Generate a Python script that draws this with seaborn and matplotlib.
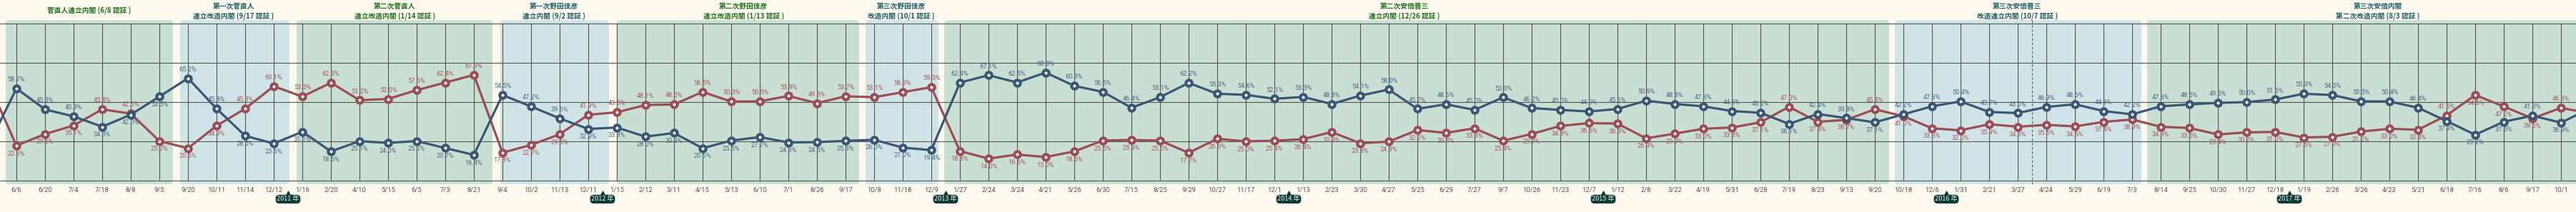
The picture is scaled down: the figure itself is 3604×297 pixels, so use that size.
import matplotlib
matplotlib.use("Agg")
import matplotlib.pyplot as plt
import seaborn as sns
import pandas as pd
import numpy as np
from matplotlib.patches import FancyBboxPatch

# ---------------- data ----------------
dates = ['6/6','6/20','7/4','7/18','8/8','9/5','9/20','10/11','11/14','12/12',
         '1/16','2/20','4/10','5/15','6/5','7/3','8/21','9/4','10/2','11/13',
         '12/11','1/15','2/12','3/11','4/15','5/13','6/10','7/1','8/26','9/17',
         '10/8','11/18','12/9','1/27','2/24','3/24','4/21','5/26','6/30','7/15',
         '8/25','9/29','10/27','11/17','12/1','1/13','2/23','3/30','4/27','5/25',
         '6/29','7/27','9/7','10/26','11/23','12/7','1/12','2/8','3/22','4/19',
         '5/31','6/28','7/19','8/23','9/13','9/20','10/18','12/6','1/31','2/21',
         '3/27','4/24','5/29','6/19','7/3','8/14','9/25','10/30','11/27','12/18',
         '1/19','2/26','3/26','4/23','5/21','6/18','7/16','8/6','9/17','10/1']

approve = [58.7,45.3,40.9,34.3,42.0,53.5,65.2,45.8,28.5,23.6,
           31.1,18.6,25.1,24.0,25.2,20.7,16.4,54.5,47.2,39.6,
           32.9,33.8,28.0,30.3,20.6,25.5,27.7,24.3,24.5,25.3,
           26.0,21.0,19.4,62.4,67.1,62.5,68.8,60.3,56.5,46.4,
           53.1,62.2,55.3,54.6,52.1,53.3,48.8,54.1,58.0,45.7,
           48.6,45.0,53.0,46.2,45.0,44.0,45.6,50.9,48.8,47.3,
           44.3,43.2,36.1,42.4,39.8,37.1,42.2,47.3,50.4,43.7,
           43.0,46.9,48.6,44.3,42.2,47.3,48.5,49.5,50.0,51.6,
           55.3,54.5,50.5,50.4,46.4,37.9,29.2,37.5,41.3,36.9]

disapprove = [22.3,29.6,35.1,45.4,42.6,25.2,20.6,34.9,45.8,60.1,
              53.5,62.3,51.2,52.0,57.6,62.4,67.3,17.8,22.7,29.5,
              41.9,43.5,48.1,48.5,56.5,50.3,50.5,53.9,49.3,53.7,
              53.1,56.3,59.5,18.8,14.0,16.6,15.0,18.6,25.5,25.9,
              25.5,17.7,26.6,25.0,25.4,26.4,30.9,23.8,24.8,32.2,
              30.4,33.3,25.4,29.7,34.8,36.6,36.3,26.9,29.9,33.0,
              33.8,37.1,47.0,37.4,38.7,45.4,41.0,33.3,32.0,35.9,
              34.3,35.5,34.5,37.4,38.9,34.3,33.5,29.4,30.7,31.0,
              27.5,27.9,31.2,33.0,32.4,41.5,54.5,47.2,39.6,46.3]

# polls just outside the visible window (lines run off the edges)
lead_in_approve, lead_in_disapprove = 21.7, 63.2
lead_out_approve, lead_out_disapprove = 45.8, 42.9

years = ['2011 年', '2012 年', '2013 年', '2014 年', '2015 年', '2016 年', '2017 年']

cabinet_line1 = ['菅直人連立内閣 (6/8 認証 )', '第一次菅直人', '第二次菅直人', '第一次野田佳彦',
                 '第二次野田佳彦', '第三次野田佳彦', '第二次安倍晋三', '第三次安倍晋三', '第三次安倍内閣']
cabinet_line2 = ['', '連立改造内閣 (9/17 認証 )', '連立改造内閣 (1/14 認証 )', '連立内閣 (9/2 認証 )',
                 '連立改造内閣 (1/13 認証 )', '改造内閣 (10/1 認証 )', '連立内閣 (12/26 認証 )',
                 '改造連立内閣 (10/7 認証 )', '第二次改造内閣 (8/3 認証 )']
cabinet_start = [-0.375, 5.725, 9.8, 16.925, 21.0, 29.7, 32.45, 65.7, 74.525]
cabinet_end = [5.475, 9.55, 16.65, 20.725, 29.475, 32.25, 65.5, 74.325, 89.6]
cabinet_title_pos = [2.53, 7.6, 13.23, 18.8, 25.43, 30.95, 48.55, 69.98, 82.6]
cabinet_band = ['g', 'b', 'g', 'b', 'g', 'b', 'g', 'b', 'g']
cabinet_title = ['g', 'b', 'g', 'b', 'g', 'b', 'g', 'b', 'b']
dashed_marker_pos = 70.5

approve_label_below = [5]
disapprove_label_below = [86, 87]

# ---------------- style ----------------
BG = '#fdf9ef'
BAND = {'g': '#c9dfd3', 'b': '#d0e4e7'}
TITLE = {'g': '#1f6e1c', 'b': '#1b5c63'}
BLUE = '#3a5674'
RED = '#9b4d55'
BLUE_TXT = '#4e6a86'
RED_TXT = '#a65c62'
GRID = '#55554e'
BADGE = '#0f3a35'

sns.set_style("white")
plt.rcParams['font.family'] = ['Roboto', 'Noto Sans CJK JP', 'DejaVu Sans']

W, H = 3604, 297
fig = plt.figure(figsize=(W / 100, H / 100), dpi=100, facecolor=BG)
y_bot_px, y_top_px = 258.3, 28.3
ax = fig.add_axes([0, (H - y_bot_px) / H, 1, (y_bot_px - y_top_px) / H])
ax.set_facecolor(BG)
ax.set_xlim(-0.575, 89.525)
ax.set_ylim(-2.41, 102.14)
for s in ax.spines.values():
    s.set_visible(False)

n = len(dates)
pos = np.arange(-1, n + 1)
df = pd.DataFrame({
    'pos': pos,
    'approve': [lead_in_approve] + approve + [lead_out_approve],
    'disapprove': [lead_in_disapprove] + disapprove + [lead_out_disapprove],
})

# bands
px_per_x = 40.0
px_per_y = 2.2
r = 0.11
for x0, x1, k in zip(cabinet_start, cabinet_end, cabinet_band):
    p = FancyBboxPatch((x0, -2.41), x1 - x0, 102.14 + 2.41,
                       boxstyle=f"round,pad=0,rounding_size={r}",
                       mutation_aspect=px_per_x / px_per_y,
                       fc=BAND[k], ec='none', zorder=0)
    ax.add_patch(p)

# grid
for yv in [0, 25, 50, 75, 100]:
    ax.axhline(yv, color=GRID, lw=0.8, zorder=1)
ax.vlines(np.arange(n), 0, 100, color=GRID, lw=0.8, zorder=1)
ax.vlines([dashed_marker_pos], -2.41, 102.14, color='#555555', lw=0.8,
          linestyles=(0, (3, 2.5)), zorder=1)

# lines
common = dict(marker='o', markersize=6, markeredgewidth=3, markerfacecolor='white',
              lw=2.3, ax=ax, legend=False, solid_joinstyle='round', errorbar=None)
sns.lineplot(data=df, x='pos', y='disapprove', color=RED, markeredgecolor=RED,
             zorder=3, **common)
sns.lineplot(data=df, x='pos', y='approve', color=BLUE, markeredgecolor=BLUE,
             zorder=4, **common)

# value labels
for i in range(n):
    a, d = approve[i], disapprove[i]
    a_up = a >= d
    d_up = not a_up
    if i in approve_label_below:
        a_up = False
    if i in disapprove_label_below:
        d_up = False
    for v, up, c in [(a, a_up, BLUE_TXT), (d, d_up, RED_TXT)]:
        ax.annotate(f"{v:.1f}%", (i, v), xytext=(0, 8.9 if up else -8.0),
                    textcoords='offset points', ha='center', va='center',
                    fontsize=6.6, color=c, zorder=5)

# ticks
ax.set_xticks(np.arange(n))
ax.set_xticklabels(dates, fontsize=6.8, color='#555555')
ax.set_yticks([])
ax.tick_params(axis='x', length=0, pad=2.6)
ax.set_xlabel('')
ax.set_ylabel('')

# year badges
months = [int(s.split('/')[0]) for s in dates]
boundaries = [i - 0.5 for i in range(1, n) if months[i] < months[i - 1]]
for xb, label in zip(boundaries, years):
    ax.text(xb, -11.8, label, ha='center', va='center', fontsize=6.6,
            color='#e6f0ea', family=['Noto Sans CJK JP'],
            bbox=dict(boxstyle='round,pad=0.18,rounding_size=0.55', fc=BADGE, ec='none'),
            clip_on=False, zorder=6)
    ax.plot([xb], [-7.6], marker='^', ms=3.5, color=BADGE, clip_on=False, zorder=6)

# cabinet titles
for l1, l2, xt, k in zip(cabinet_line1, cabinet_line2, cabinet_title_pos, cabinet_title):
    kw = dict(ha='center', va='center', fontsize=7, fontweight='bold',
              color=TITLE[k], family=['Noto Sans CJK JP', 'DejaVu Sans'], clip_on=False)
    if l2:
        ax.text(xt, (253 - 10) / px_per_y, l1, **kw)
        ax.text(xt, (253 - 23) / px_per_y, l2, **kw)
    else:
        ax.text(xt, (253 - 15) / px_per_y, l1, **kw)

fig.savefig('out.png', dpi=100, facecolor=BG)
